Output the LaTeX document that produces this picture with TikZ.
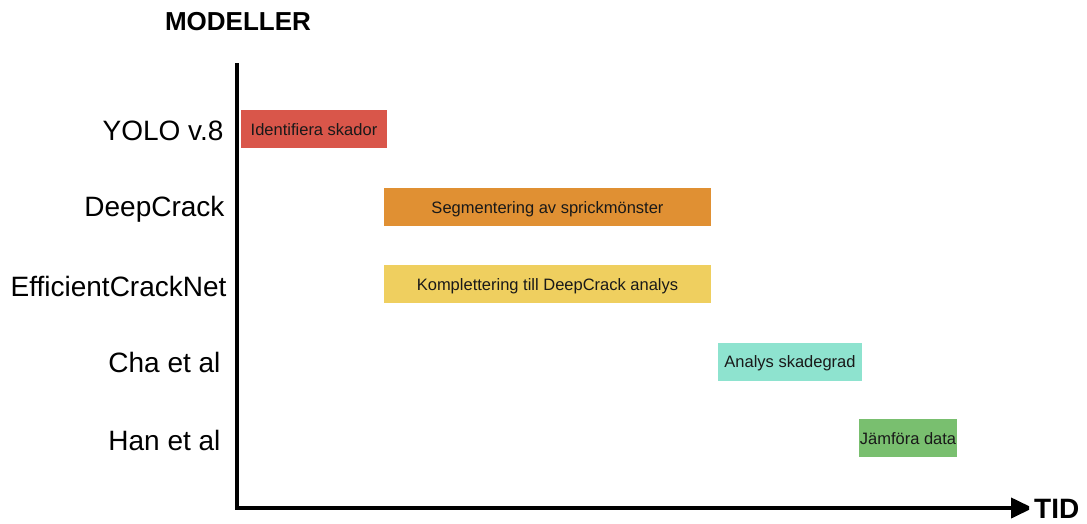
\documentclass[tikz,border=0pt]{standalone}
\usepackage{fontspec}
\setmainfont{Liberation Sans}
\usetikzlibrary{arrows.meta}
\definecolor{rodfarg}{HTML}{D9564A}
\definecolor{orangefarg}{HTML}{E09033}
\definecolor{gulfarg}{HTML}{EFCF5F}
\definecolor{turkosfarg}{HTML}{8EE3CF}
\definecolor{gronfarg}{HTML}{79BF6F}
\begin{document}
\begin{tikzpicture}[x=1pt,y=-1pt,
  modell/.style={anchor=east,font=\fontsize{28}{30}\selectfont},
  uppgift/.style={minimum height=38pt,inner sep=0pt,text height=13pt,text depth=1pt,text=black!90,font=\fontsize{16.5}{18}\selectfont},
  rubrik/.style={font=\fontsize{26}{28}\selectfont\bfseries}]
\useasboundingbox (0,0) rectangle (1087,523);
\coordinate (topp) at (237,63);
\coordinate (origo) at (237,508);
\coordinate (slut) at (1033,508);
\node[rubrik] (modeller) at (238,22) {MODELLER};
\node[rubrik,anchor=west,font=\fontsize{28}{30}\selectfont\bfseries,inner sep=1pt] (tid) at (1033,509) {TID};
\node[modell] (yolo) at (227,131) {YOLO v.8};
\node[modell] (deepcrack) at (228,209) {DeepCrack};
\node[modell] (efficient) at (230,286) {EfficientCrackNet};
\node[modell] (cha) at (224,362) {Cha et al};
\node[modell] (han) at (224,440) {Han et al};
\node[uppgift,fill=rodfarg,minimum width=146pt] (identifiera) at (314,129) {Identifiera skador};
\node[uppgift,fill=orangefarg,minimum width=327pt] (segmentering) at (547.5,207) {Segmentering av sprickmönster};
\node[uppgift,fill=gulfarg,minimum width=327pt] (komplettering) at (547.5,284) {Komplettering till DeepCrack analys};
\node[uppgift,fill=turkosfarg,minimum width=144pt] (analys) at (790,361.5) {Analys skadegrad};
\node[uppgift,fill=gronfarg,minimum width=98pt] (jamfora) at (908,438) {Jämföra data};
\path[draw,line width=4pt,miter limit=2,-{Triangle[length=22pt,width=20pt]}] (topp) -- (origo) -- (slut);
\end{tikzpicture}
\end{document}
